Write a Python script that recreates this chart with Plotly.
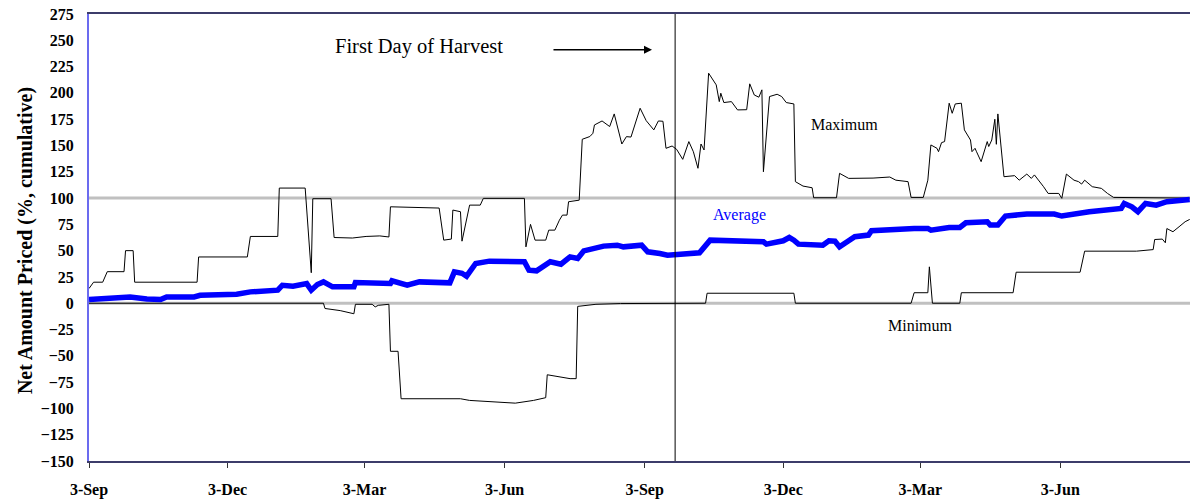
import pandas as pd
import plotly.graph_objects as go

# ---- data (days since 3-Sep of first season, values in % cumulative) ----
START = "2001-09-03"

max_days = [0, 3, 9, 12, 23, 24, 29, 30, 71, 72, 104, 106, 124, 125, 142, 146, 147, 159, 161,
            173, 182, 191, 197, 198, 230, 233, 238, 239, 244, 245, 250, 257, 259, 286, 287, 290,
            293, 300, 302, 306, 309, 311, 314, 315, 322, 324, 329, 331, 332, 337, 342, 345, 350,
            353, 356, 359, 362, 366, 371, 374, 377, 379, 383, 386, 389, 390, 394, 397, 400, 402,
            404, 407, 412, 414, 415, 417, 422, 426, 432, 434, 437, 440, 442, 443, 447, 452, 455,
            458, 463, 464, 469, 475, 476, 491, 493, 499, 515, 526, 530, 538, 540, 548, 551, 553,
            557, 558, 560, 562, 565, 567, 569, 573, 575, 579, 580, 582, 583, 586, 590, 591, 593,
            595, 596, 597, 601, 608, 611, 616, 619, 621, 627, 630, 637, 639, 642, 647, 650, 652,
            654, 659, 665, 669, 673, 723]
max_vals = [14, 20, 20, 30, 30, 50, 50, 20, 20, 44, 44, 63.5, 63.5, 109.5, 109.5, 29, 99.4, 99.4, 62.5,
            62, 63.5, 64, 63, 91.7, 90.5, 60, 61, 88.6, 87, 59, 93.3, 93.3, 99.7, 99.7, 53.6, 75,
            60, 60, 69.5, 69.5, 79, 83.8, 83.8, 96.5, 98, 155.9, 158.5, 161.6, 169.5, 173.3, 168, 180, 151.4,
            158.4, 158, 172.7, 185.4, 173.6, 164.8, 173.3, 173, 147.3, 149.5, 146.3, 139.4, 136.8, 153.7, 144, 128.3, 151.4,
            145.7, 218.7, 207.6, 191.7, 199.7, 190.8, 191.7, 183.8, 184, 208.6, 198, 195.9, 202.9, 125, 196.5, 198.7, 196.5,
            190.8, 189.5, 115.6, 111.4, 109.8, 100.3, 100.3, 123.5, 118.7, 119, 120, 117, 115.6, 100.6, 100.6, 117, 150.5,
            147.3, 144.1, 152.7, 153.7, 190.2, 180.6, 189.5, 190.2, 164.8, 155.2, 144.1, 147.3, 144, 134.6, 153.7, 149, 155.2,
            174.9, 151.1, 180, 120.3, 121.3, 117, 122.8, 118.7, 122, 110.8, 104.4, 104.4, 99.7, 122.8, 117, 115.6, 113.3,
            117, 110.8, 109.2, 104.4, 100.6, 100]

min_days = [0, 154, 155, 165, 174, 175, 186, 188, 190, 197, 198, 203, 205, 244, 250, 280, 292, 300,
            301, 309, 316, 320, 321, 333, 349, 405, 406, 463, 464, 540, 542, 551, 552, 554, 572, 573,
            607, 609, 651, 654, 688, 699, 700, 705, 707, 708, 712, 716, 720, 723]
min_vals = [0, 0, -5, -7, -10, -1, -1, -3.5, -2, -1, -45.7, -45.7, -90.8, -90.8, -92.4, -95, -92.4, -89.8,
            -68, -70, -71.7, -71.7, -3, -1, -0.3, 0, 9.5, 9.5, 0, 0, 10, 10, 34.6, 0, 0, 10,
            10, 29.5, 29.5, 49.5, 49.5, 51, 60.6, 61, 57.5, 71, 68, 72.7, 77.5, 79.7]

avg_days = [0, 16, 27, 38, 47, 51, 69, 73, 97, 106, 124, 127, 134, 143, 146, 150, 154, 160, 174, 175,
            191, 198, 199, 209, 217, 237, 240, 245, 248, 254, 263, 286, 289, 294, 303, 310, 316, 321,
            325, 338, 347, 351, 363, 367, 375, 380, 401, 405, 408, 443, 445, 456, 460, 463, 466, 482,
            486, 490, 493, 498, 503, 512, 514, 542, 551, 553, 565, 572, 576, 590, 592, 597, 602, 616,
            634, 639, 657, 678, 680, 685, 689, 694, 701, 708, 723]
avg_vals = [3.5, 4.8, 6, 4, 3.5, 6, 6, 7.6, 8.6, 10.8, 12.4, 17.1, 16.2, 18.7, 12.4, 17.8, 20.3, 15.6, 15.6, 19.7,
            19.5, 18.7, 21.3, 17.1, 20.3, 19.4, 29.8, 28.5, 25.7, 37.8, 40, 39.4, 31.4, 30.8, 39.4, 37.1, 44.1, 42.5,
            49.8, 54.3, 55.2, 53.6, 55.2, 48.9, 47.3, 45.7, 48, 55.2, 60, 58.4, 56.2, 59.4, 62.5, 60, 56.2, 55.2,
            59.4, 59, 53.6, 58.4, 63.2, 64.8, 68.9, 71.1, 71.1, 69.5, 72, 72, 76.5, 77.5, 74.3, 74.3, 82.9, 84.8,
            84.8, 82.9, 87, 90.2, 94.9, 91.7, 87, 94.9, 93.3, 96.5, 98.7]

harvest_day = 385
axis_end_day = 723.2

tick_days = [0, 91, 181, 273, 365, 456, 546, 638]
tick_labels = ["3-Sep", "3-Dec", "3-Mar", "3-Jun", "3-Sep", "3-Dec", "3-Mar", "3-Jun"]

y_ticks = list(range(-150, 276, 25))

# ---- helpers ----
base = pd.Timestamp(START)


def to_dates(days):
    return [base + pd.Timedelta(days=float(d)) for d in days]


SERIF = "Liberation Serif, Times New Roman, serif"

fig = go.Figure()

fig.add_trace(go.Scatter(x=to_dates(max_days), y=max_vals, mode="lines",
                         line=dict(color="black", width=1), name="Maximum"))
fig.add_trace(go.Scatter(x=to_dates(min_days), y=min_vals, mode="lines",
                         line=dict(color="black", width=1), name="Minimum"))
fig.add_trace(go.Scatter(x=to_dates(avg_days), y=avg_vals, mode="lines",
                         line=dict(color="#0000ff", width=5.5), name="Average"))

# reference lines at 0 and 100
for v in (0, 100):
    fig.add_shape(type="line", xref="paper", x0=0, x1=1, yref="y", y0=v, y1=v,
                  line=dict(color="#c0c0c0", width=3), layer="below")

# harvest line
hx = base + pd.Timedelta(days=harvest_day)
fig.add_shape(type="line", xref="x", x0=hx, x1=hx, yref="paper", y0=0, y1=1,
              line=dict(color="black", width=1), layer="above")

ann = []
ann.append(dict(x=base + pd.Timedelta(days=216.5), y=244, xref="x", yref="y",
                text="First Day of Harvest", showarrow=False,
                font=dict(family=SERIF, size=20.5, color="black")))
ann.append(dict(x=base + pd.Timedelta(days=369.8), y=241, xref="x", yref="y",
                text="", showarrow=True, arrowhead=2, arrowsize=1, arrowwidth=1.6,
                arrowcolor="black", ax=-100, ay=0))
ann.append(dict(x=base + pd.Timedelta(days=496.5), y=169.5, xref="x", yref="y",
                text="Maximum", showarrow=False,
                font=dict(family=SERIF, size=16, color="black")))
ann.append(dict(x=base + pd.Timedelta(days=427.6), y=83.8, xref="x", yref="y",
                text="Average", showarrow=False,
                font=dict(family=SERIF, size=16, color="#0000ff")))
ann.append(dict(x=base + pd.Timedelta(days=546.5), y=-21, xref="x", yref="y",
                text="Minimum", showarrow=False,
                font=dict(family=SERIF, size=16, color="black")))
ann.append(dict(x=-0.0581, y=0.492, xref="paper", yref="paper",
                text="<b>Net Amount Priced (%, cumulative)</b>", textangle=-90,
                showarrow=False, xanchor="center", yanchor="middle",
                font=dict(family=SERIF, size=20, color="black")))

fig.update_layout(
    width=1191, height=504,
    margin=dict(l=89, r=1, t=14, b=43),
    plot_bgcolor="white", paper_bgcolor="white",
    showlegend=False,
    annotations=ann,
    xaxis=dict(
        type="date",
        range=[base, base + pd.Timedelta(days=axis_end_day)],
        tickvals=to_dates(tick_days), ticktext=tick_labels,
        ticks="outside", ticklen=5, tickcolor="#333333", tickwidth=1,
        showgrid=False, zeroline=False,
        showline=True, linecolor="#3c3c6a", linewidth=2, mirror=True,
        tickfont=dict(family=SERIF, size=16, color="black", weight="bold"),
        ticklabelstandoff=8,
    ),
    yaxis=dict(
        range=[-150, 275],
        tickvals=y_ticks,
        ticks="", showgrid=False, zeroline=False,
        showline=True, linecolor="#6b6bef", linewidth=2,
        tickfont=dict(family=SERIF, size=16, color="black", weight="bold"),
        ticklabelstandoff=10,
    ),
)

fig.write_html("out.html", config={"displayModeBar": False},
               post_script="document.body.style.margin='0';document.body.style.overflow='hidden';")
